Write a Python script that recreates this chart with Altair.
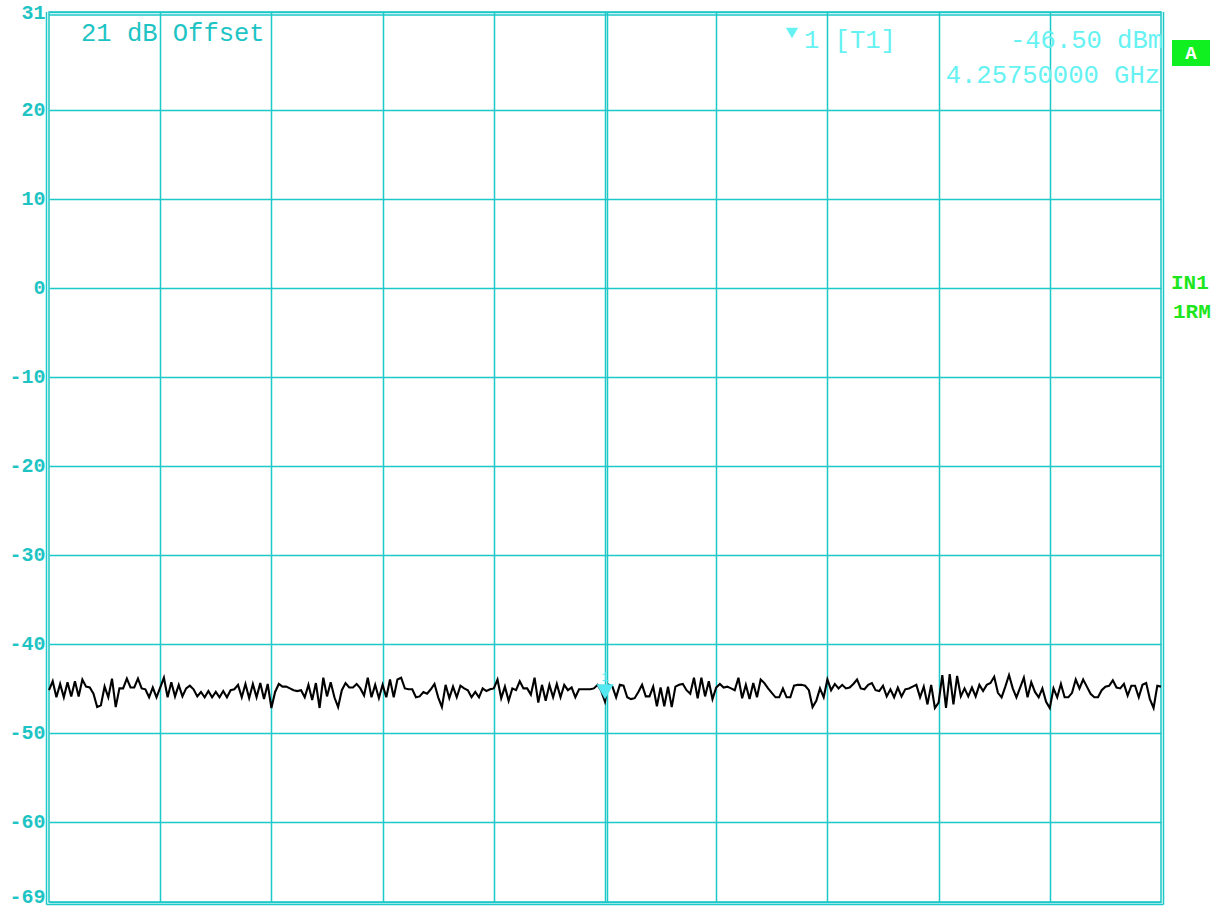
import altair as alt
import pandas as pd

# ---- data ----
y_tick_values = [31, 20, 10, 0, -10, -20, -30, -40, -50, -60, -69]
y_domain = [-69, 31]
x_grid_values = [0.1, 0.2, 0.3, 0.4, 0.5, 0.6, 0.7, 0.8, 0.9]

trace_dbm = [
    # division 1
    -45.2, -44.2, -46.0, -44.5, -46.0, -44.3, -45.9, -44.2, -45.9, -44.0,
    -44.8, -44.9, -45.6, -47.1, -46.9, -44.8, -46.0, -43.9, -47.1, -45.0,
    -45.0, -43.9, -44.9, -44.9, -43.9, -45.0, -45.1, -46.0, -44.9, -46.0,
    # division 2
    -44.9, -43.8, -46.0, -44.3, -45.9, -44.6, -45.9, -45.0, -44.7, -45.1,
    -45.9, -45.4, -46.0, -45.3, -46.0, -45.4, -46.0, -45.3, -46.0, -45.2,
    -45.1, -44.6, -46.0, -44.5, -46.1, -44.5, -46.0, -44.4, -46.2, -44.5,
    # division 3
    -47.2, -45.4, -44.5, -44.8, -44.8, -45.0, -45.2, -45.3, -45.2, -46.0,
    -44.6, -46.3, -44.4, -47.2, -43.8, -45.9, -44.3, -46.0, -47.1, -45.2,
    -44.4, -44.9, -44.9, -44.5, -45.0, -45.8, -43.8, -46.0, -44.6, -46.1,
    # division 4
    -44.6, -46.0, -44.0, -46.0, -44.0, -43.8, -45.0, -45.1, -45.1, -46.0,
    -45.9, -45.4, -45.6, -45.1, -44.5, -46.0, -47.1, -44.6, -46.1, -44.8,
    -46.0, -44.7, -45.0, -45.2, -46.0, -45.4, -46.0, -45.0, -45.3, -45.1,
    # division 5
    -45.0, -44.0, -46.1, -44.8, -46.4, -45.0, -45.2, -44.2, -45.0, -45.0,
    -45.7, -43.8, -46.6, -44.6, -46.4, -44.6, -46.0, -44.5, -46.0, -44.6,
    -45.2, -44.9, -46.0, -45.1, -45.1, -45.1, -45.1, -45.0, -44.6, -45.3,
    # division 6
    -46.5, -44.6, -44.8, -46.0, -44.6, -44.7, -46.0, -46.2, -46.1, -45.4,
    -44.6, -45.9, -45.9, -44.8, -47.0, -44.9, -47.0, -44.8, -47.1, -44.8,
    -44.6, -44.5, -45.2, -45.6, -43.8, -46.1, -43.8, -45.9, -44.2, -46.2,
    # division 7
    -44.9, -44.5, -44.9, -44.8, -45.0, -45.2, -43.8, -46.1, -44.6, -46.2,
    -44.4, -46.0, -44.0, -44.4, -45.0, -45.5, -46.0, -46.0, -45.0, -46.0,
    -46.0, -44.7, -44.6, -44.6, -44.7, -45.2, -47.1, -46.4, -45.0, -46.0,
    # division 8
    -44.0, -45.2, -44.5, -45.0, -44.6, -45.0, -44.9, -44.5, -44.0, -45.0,
    -45.1, -44.6, -44.4, -45.2, -45.3, -44.7, -45.9, -45.1, -46.0, -44.9,
    -45.9, -45.1, -45.0, -44.8, -44.6, -46.0, -44.8, -46.8, -44.6, -47.2,
    # division 9
    -46.6, -43.5, -47.2, -43.4, -46.8, -43.6, -45.9, -45.0, -45.9, -44.9,
    -45.9, -44.6, -45.3, -44.6, -44.4, -43.7, -45.5, -46.0, -44.8, -43.5,
    -45.0, -46.0, -44.9, -43.8, -46.0, -44.3, -45.4, -46.0, -45.0, -46.5,
    # division 10
    -47.2, -45.0, -46.0, -44.5, -46.0, -46.0, -45.5, -44.0, -45.0, -44.0,
    -44.8, -45.6, -46.0, -46.0, -45.2, -44.8, -44.7, -44.1, -44.9, -45.0,
    -44.5, -45.8, -44.7, -44.7, -46.0, -44.6, -44.4, -46.2, -47.2, -44.7,
    -44.8,
]

marker_pos = [0.5]
marker_level = [-46.5]

offset_text = "21 dB Offset"
marker_label = "1 [T1]"
marker_level_text = "-46.50 dBm"
marker_freq_text = "4.25750000 GHz"
side_labels = ["IN1", "1RM"]
badge_text = "A"

# ---- styling ----
W, H = 1112, 890
GRID = "#1cc8c8"
LABEL = "#1ec4c4"
MARK_TXT = "#66f2f2"
GREEN = "#1ee61e"
MONO = "Liberation Mono"

n = len(trace_dbm)
trace_df = pd.DataFrame({
    "pos": [i / (n - 1) for i in range(n)],
    "level": trace_dbm,
})
marker_df = pd.DataFrame({"pos": marker_pos, "level": marker_level})

xscale = alt.Scale(domain=[0, 1], nice=False, zero=False)
yscale = alt.Scale(domain=y_domain, nice=False, zero=False)

x_enc = alt.X("pos:Q", scale=xscale,
              axis=alt.Axis(values=x_grid_values, labels=False, ticks=False,
                            domain=False, grid=True, title=None,
                            gridColor=GRID, gridWidth=1.5, gridOpacity=1))
y_enc = alt.Y("level:Q", scale=yscale,
              axis=alt.Axis(values=y_tick_values, ticks=False, domain=False,
                            grid=True, title=None, gridColor=GRID,
                            gridWidth=1.5, gridOpacity=1,
                            labelColor=LABEL, labelFont=MONO,
                            labelFontSize=20, labelFontWeight="bold",
                            labelPadding=4,
                            labelExpr="replace(datum.label, '\u2212', '-')",
                            labelBaseline=alt.ConditionalAxisLabelBaseline(
                                condition={"test": "datum.value < -65",
                                           "value": "alphabetic"},
                                value="middle"),
                            labelFlush=False, labelOverlap=False))

trace = alt.Chart(trace_df).mark_line(color="black", strokeWidth=2.1,
                                      interpolate="linear").encode(x=x_enc, y=y_enc)

marker_tri = alt.Chart(marker_df).mark_point(
    shape="triangle-down", filled=True, color="#55e8f0", size=300,
    opacity=1, yOffset=-10).encode(x="pos:Q", y="level:Q")
marker_num = alt.Chart(marker_df).mark_text(
    text="1", color="#55e8f0", font=MONO, fontSize=12, yOffset=-25
).encode(x="pos:Q", y="level:Q")

def rule(**kw):
    return alt.Chart(trace_df.head(1)).mark_rule(color=GRID, strokeWidth=1.5).encode(**kw)

frame = [
    rule(x=alt.value(-2.5), y=alt.value(0), y2=alt.value(H + 2.5)),
    rule(x=alt.value(W + 2.5), y=alt.value(0), y2=alt.value(H + 2.5)),
    rule(x=alt.value(-2.5), x2=alt.value(W + 2.5), y=alt.value(H + 2.5)),
    rule(x=alt.value(0), x2=alt.value(W), y=alt.value(3.0)),
    rule(x=alt.value(W / 2 + 2.5), y=alt.value(0), y2=alt.value(H)),
]

def txt(text, x, y, color, align="left", size=25.5, weight="normal"):
    return alt.Chart(trace_df.head(1)).mark_text(
        text=text, color=color, font=MONO, fontSize=size, align=align,
        baseline="middle", fontWeight=weight
    ).encode(x=alt.value(x), y=alt.value(y))

tri_top = alt.Chart(trace_df.head(1)).mark_point(
    shape="triangle-down", filled=True, color=MARK_TXT, size=150, opacity=1
).encode(x=alt.value(743), y=alt.value(21))

badge = alt.Chart(trace_df.head(1)).mark_rect(color="#10f020").encode(
    x=alt.value(1123), x2=alt.value(1161), y=alt.value(28), y2=alt.value(54))

texts = [
    txt(offset_text, 32, 21, LABEL),
    txt(marker_label, 755, 28, MARK_TXT),
    txt(marker_level_text, 1114, 28, MARK_TXT, align="right"),
    txt(marker_freq_text, 1111, 63, MARK_TXT, align="right"),
    txt(badge_text, 1142, 41, "white", align="center", size=19, weight="bold"),
    txt(side_labels[0], 1122, 271, GREEN, size=21, weight="bold"),
    txt(side_labels[1], 1124, 300, GREEN, size=21, weight="bold"),
]

chart = alt.layer(trace, *frame, marker_tri, marker_num, tri_top, badge, *texts).properties(
    width=W, height=H,
    autosize=alt.AutoSizeParams(type="none"),
    padding={"left": 49, "top": 12, "right": 64, "bottom": 5},
    background="white",
).configure_view(stroke=GRID, strokeWidth=1.5)

chart.save("out.html", embed_options={"renderer": "svg", "actions": False})
